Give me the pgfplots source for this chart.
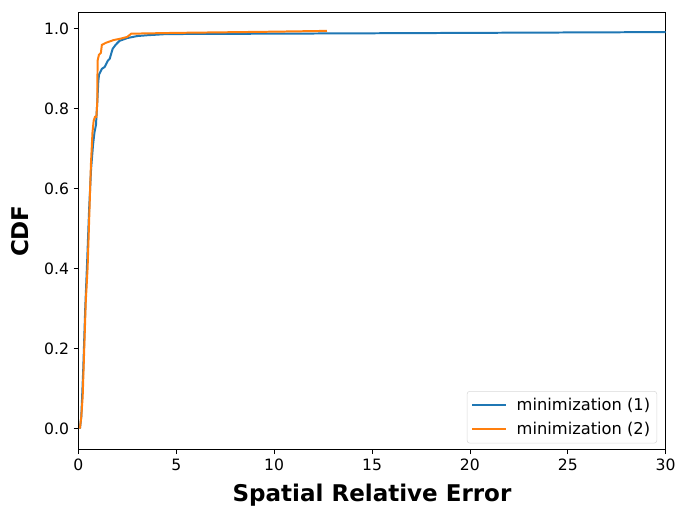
\documentclass[border=0pt]{standalone}
\usepackage{fontspec}
\setmainfont{DejaVu Sans}
\usepackage{pgfplots}
\pgfplotsset{compat=1.18}
\definecolor{c0}{HTML}{1F77B4}
\definecolor{c1}{HTML}{FF7F0E}
\begin{document}
\begin{tikzpicture}
\begin{axis}[
  name=ax, scale only axis, width=444pt, height=330pt,
  xmin=0, xmax=30, ymin=-0.052, ymax=1.04,
  xtick={0,5,10,15,20,25,30}, ytick={0,0.2,0.4,0.6,0.8,1.0},
  yticklabel style={/pgf/number format/.cd, fixed, fixed zerofill, precision=1},
  /pgf/number format/assume math mode=true,
  tick align=outside, tick pos=left, major tick length=3.6pt,
  tick style={line width=0.6pt, black},
  tick label style={font=\fontsize{11.8}{14}\selectfont},
  xlabel={\textbf{Spatial Relative Error}}, ylabel={\textbf{CDF}},
  label style={font=\fontsize{17.4}{20}\selectfont},
  xlabel style={yshift=-3pt},
  ylabel style={yshift=4.5pt},
  axis line style={line width=0.6pt},
  legend cell align=left,
  legend style={at={(1,0)}, anchor=south east, xshift=-6.5pt, yshift=4.5pt,
    draw=black!15, rounded corners=2pt, font=\fontsize{12.3}{14}\selectfont,
    row sep=3.5pt, inner xsep=3pt, inner ysep=3pt},
  legend image code/.code={\draw[#1] (0pt,0pt) -- (26pt,0pt); \path (31pt,0pt);},
]
\addplot[c0, line width=1.5pt] coordinates {
(0.08,0) (0.15,0.03) (0.25,0.15) (0.35,0.3) (0.45,0.42) (0.55,0.55) (0.65,0.65)
(0.75,0.71) (0.82,0.74) (0.9,0.76) (0.97,0.82) (1.02,0.87) (1.06,0.886)
(1.2,0.9) (1.35,0.905) (1.5,0.92) (1.6,0.925) (1.75,0.95) (1.9,0.96) (2.1,0.97)
(2.5,0.977) (3,0.982) (3.5,0.984) (4.5,0.987) (10,0.988) (20,0.99) (30,0.992)
};
\addlegendentry{minimization (1)}
\addplot[c1, line width=1.5pt] coordinates {
(0.08,0) (0.15,0.03) (0.22,0.08) (0.3,0.2) (0.38,0.32) (0.47,0.40) (0.55,0.52)
(0.64,0.66) (0.72,0.74) (0.78,0.77) (0.85,0.78) (0.92,0.78) (0.97,0.82)
(0.98,0.92) (1.05,0.935) (1.15,0.94) (1.2,0.96) (1.4,0.965) (1.8,0.972)
(2.2,0.976) (2.5,0.98) (2.7,0.988) (5,0.99) (10,0.993) (12.7,0.995)
};
\addlegendentry{minimization (2)}
\end{axis}
\path ([xshift=-59.25pt,yshift=-45pt]ax.south west) rectangle ([xshift=6.75pt,yshift=9.75pt]ax.north east);
\end{tikzpicture}
\end{document}
